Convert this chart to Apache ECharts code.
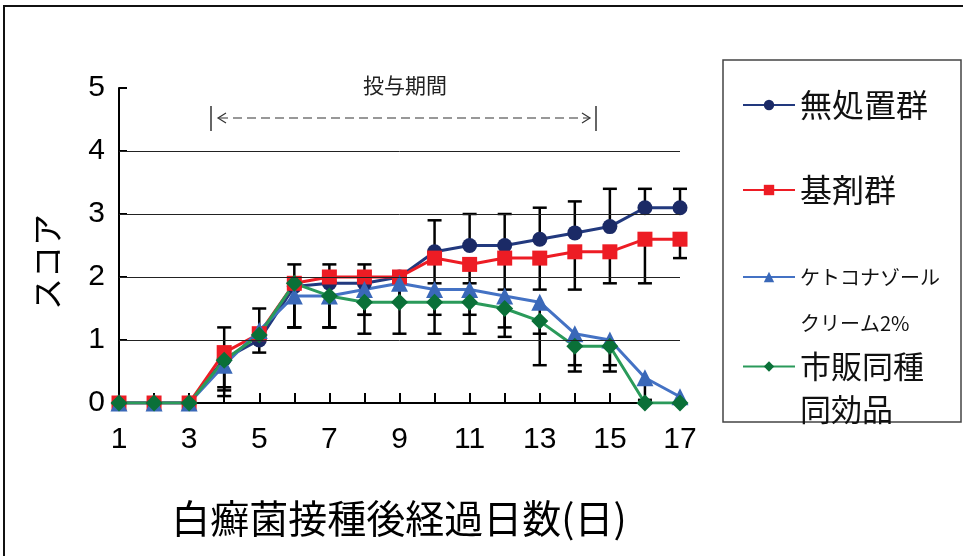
<!DOCTYPE html>
<html>
<head>
<meta charset="utf-8">
<script src="https://cdn.jsdelivr.net/npm/echarts@6/dist/echarts.min.js"></script>
<style>
  html, body { margin: 0; padding: 0; background: #fff; }
  #main { width: 963px; height: 556px; }
</style>
</head>
<body>
<div id="main"></div>
<script>
// 経過日数
var days = ['1','2','3','4','5','6','7','8','9','10','11','12','13','14','15','16','17'];

// 平均スコア
var mutreat = [0, 0, 0, 0.7, 1.0, 1.85, 1.9, 1.9, 2.0, 2.4, 2.5, 2.5, 2.6, 2.7, 2.8, 3.1, 3.1];
var base    = [0, 0, 0, 0.8, 1.1, 1.9, 2.0, 2.0, 2.0, 2.3, 2.2, 2.3, 2.3, 2.4, 2.4, 2.6, 2.6];
var keto    = [0, 0, 0, 0.6, 1.15, 1.7, 1.7, 1.8, 1.9, 1.8, 1.8, 1.7, 1.6, 1.1, 1.0, 0.4, 0.1];
var generic = [0, 0, 0, 0.68, 1.08, 1.9, 1.7, 1.6, 1.6, 1.6, 1.6, 1.5, 1.3, 0.9, 0.9, 0, 0];

// 誤差（無処置群は上側のみ、他は下側のみ表示）
var mutreatErr = [0, 0, 0, 0.5, 0.5, 0.35, 0.3, 0.3, 0, 0.5, 0.5, 0.5, 0.5, 0.5, 0.6, 0.3, 0.3];
var baseErr    = [0, 0, 0, 0.55, 0.3, 0.7, 0.8, 0.6, 0.4, 0.4, 0.3, 0.5, 0.5, 0.6, 0.5, 0.7, 0.3];
var ketoErr    = [0, 0, 0, 0.4, 0, 0.5, 0.5, 0.4, 0.3, 0.4, 0.4, 0.5, 0.5, 0.5, 0.4, 0.35, 0];
var genericErr = [0, 0, 0, 0.57, 0, 0.7, 0.5, 0.5, 0.5, 0.5, 0.5, 0.45, 0.7, 0.4, 0.4, 0, 0];

var gridLevels = [1, 2, 3, 4];

var names = ['無処置群', '基剤群', 'ケトコナゾール\nクリーム2%', '市販同種\n同効品'];

var jpFont = '"Noto Sans CJK JP", sans-serif';
var numFont = '"Liberation Sans Narrow", "Liberation Sans", Arial, sans-serif';

var dom = document.getElementById('main');
var myChart = echarts.init(dom);

function errData(means, errs, dir) {
    var out = [];
    for (var i = 0; i < means.length; i++) {
        if (errs[i] > 0) out.push([i, means[i], means[i] + dir * errs[i]]);
    }
    return out;
}

function renderErr(params, api) {
    var p0 = api.coord([api.value(0), api.value(1)]);
    var p1 = api.coord([api.value(0), api.value(2)]);
    var st = { stroke: '#000', lineWidth: 2.5 };
    return {
        type: 'group',
        children: [
            { type: 'line', shape: { x1: p0[0], y1: p0[1], x2: p1[0], y2: p1[1] }, style: st },
            { type: 'line', shape: { x1: p1[0] - 7, y1: p1[1], x2: p1[0] + 7, y2: p1[1] }, style: st }
        ]
    };
}

function errSeries(means, errs, dir) {
    return {
        type: 'custom',
        renderItem: renderErr,
        data: errData(means, errs, dir),
        z: 1,
        silent: true
    };
}

function lineSeries(name, data, lineColor, markColor, symbol, size) {
    return {
        type: 'line',
        name: name,
        data: data,
        symbol: symbol,
        symbolSize: size,
        z: 3,
        lineStyle: { color: lineColor, width: 3 },
        itemStyle: { color: markColor, borderWidth: 0 },
        emphasis: { disabled: true }
    };
}

function legendItem(name, top, fontSize, lineHeight) {
    return {
        data: [name],
        left: 737,
        top: top,
        orient: 'vertical',
        itemWidth: 52,
        itemHeight: 13,
        selectedMode: false,
        formatter: function (n) {
            return n.indexOf('\n') >= 0 ? ' \n' + n : n;
        },
        textStyle: { fontFamily: jpFont, fontSize: fontSize, lineHeight: lineHeight, color: '#111' }
    };
}

var option = {
    animation: false,
    backgroundColor: '#fff',
    grid: { left: 119, right: 283, top: 88, bottom: 153 },
    xAxis: {
        type: 'category',
        data: days,
        boundaryGap: false,
        axisLine: { lineStyle: { color: '#000', width: 2 } },
        axisTick: { inside: true, length: 10, interval: 0, lineStyle: { color: '#000', width: 2 } },
        axisLabel: { interval: 1, fontSize: 30, margin: 22, color: '#000', fontFamily: numFont },
        splitLine: { show: false }
    },
    yAxis: {
        type: 'value',
        min: 0,
        max: 5,
        interval: 1,
        axisLine: { show: true, lineStyle: { color: '#000', width: 2 } },
        axisTick: { show: true, inside: true, length: 8, lineStyle: { color: '#000', width: 2 } },
        axisLabel: { fontSize: 30, margin: 14, color: '#000', fontFamily: numFont },
        splitLine: { show: false }
    },
    legend: [
        legendItem(names[0], 82, 32, 36),
        legendItem(names[1], 167, 32, 36),
        legendItem(names[2], 203, 20, 46),
        legendItem(names[3], 297, 31, 43)
    ],
    graphic: [
        { type: 'rect', shape: { x: 4, y: 6, width: 1000, height: 600 }, style: { fill: 'none', stroke: '#111', lineWidth: 2 }, silent: true },
        { type: 'rect', shape: { x: 723, y: 60, width: 238, height: 362 }, style: { fill: 'none', stroke: '#444', lineWidth: 1.5 }, silent: true },
        { type: 'text', x: 405, y: 85, style: { text: '投与期間', font: '21px ' + jpFont, fill: '#222', align: 'center', verticalAlign: 'middle' } },
        { type: 'line', shape: { x1: 219, y1: 118, x2: 589, y2: 118 }, style: { stroke: '#333', lineWidth: 1.2, lineDash: [9, 5] } },
        { type: 'line', shape: { x1: 211, y1: 106, x2: 211, y2: 131 }, style: { stroke: '#333', lineWidth: 1.5 } },
        { type: 'line', shape: { x1: 596, y1: 106, x2: 596, y2: 131 }, style: { stroke: '#333', lineWidth: 1.5 } },
        { type: 'polyline', shape: { points: [[226, 113], [218, 118], [226, 123]] }, style: { stroke: '#333', fill: 'none', lineWidth: 1.2 } },
        { type: 'polyline', shape: { points: [[582, 113], [590, 118], [582, 123]] }, style: { stroke: '#333', fill: 'none', lineWidth: 1.2 } },
        { type: 'text', x: 47, y: 262, rotation: Math.PI / 2, style: { text: 'スコア', font: '32px ' + jpFont, fill: '#000', align: 'center', verticalAlign: 'middle' } },
        { type: 'text', x: 399, y: 518, style: { text: '白癬菌接種後経過日数(日)', font: '39px ' + jpFont, fill: '#000', align: 'center', verticalAlign: 'middle' } }
    ],
    series: [
        {
            type: 'line',
            data: [],
            silent: true,
            z: 0,
            markLine: {
                silent: true,
                symbol: ['none', 'none'],
                label: { show: false },
                lineStyle: { color: '#222', width: 1, type: 'solid' },
                data: gridLevels.map(function (v) { return { yAxis: v }; })
            }
        },
        errSeries(mutreat, mutreatErr, 1),
        errSeries(base, baseErr, -1),
        errSeries(keto, ketoErr, -1),
        errSeries(generic, genericErr, -1),
        lineSeries(names[0], mutreat, '#22397E', '#1B2A66', 'circle', 15),
        lineSeries(names[1], base, '#ED1C24', '#ED1C24', 'rect', 15),
        lineSeries(names[2], keto, '#4472C4', '#3A68B8', 'triangle', 17),
        lineSeries(names[3], generic, '#2A9A5A', '#0A7038', 'diamond', 17)
    ]
};

if (option && typeof option === "object") {
    myChart.setOption(option, true);
}
</script>
</body>
</html>
